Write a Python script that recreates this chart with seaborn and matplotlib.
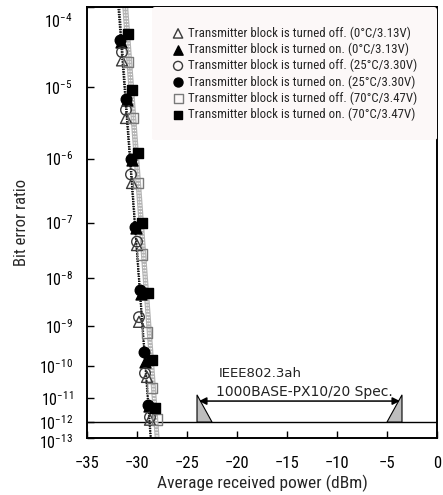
import numpy as np
import pandas as pd
import matplotlib
matplotlib.use("Agg")
import matplotlib.pyplot as plt
import matplotlib.transforms as mtransforms
from matplotlib import font_manager as fm
from matplotlib.ticker import FixedLocator, NullLocator
import seaborn as sns

# Received power (dBm) and measured bit error ratio for each condition
power_0c_off = [-31.5, -31.1, -30.5, -30.0, -29.8, -29.0, -28.7]
ber_0c_off = [2.2e-5, 3.8e-6, 4.3e-7, 4.1e-8, 1.26e-9, 4.9e-11, 1.3e-12]
power_0c_on = [-31.6, -31.0, -30.5, -30.1, -29.6, -29.2, -28.8]
ber_0c_on = [3.8e-5, 6.6e-6, 9.5e-7, 8.0e-8, 5.0e-9, 1.3e-10, 5.0e-12]
power_25c_off = [-31.5, -31.1, -30.6, -30.0, -29.8, -29.2, -28.7]
ber_25c_off = [2.8e-5, 4.9e-6, 5.8e-7, 4.7e-8, 1.6e-9, 6.3e-11, 1.7e-12]
power_25c_on = [-31.7, -31.1, -30.6, -30.2, -29.7, -29.3, -28.9]
ber_25c_on = [4.0e-5, 6.9e-6, 1.0e-6, 8.3e-8, 5.9e-9, 2.4e-10, 5.5e-12]
power_70c_off = [-30.9, -30.4, -29.9, -29.5, -29.0, -28.5, -28.0]
ber_70c_off = [2.1e-5, 3.8e-6, 4.3e-7, 2.8e-8, 7.1e-10, 2.2e-11, 1.3e-12]
power_70c_on = [-30.9, -30.5, -29.9, -29.5, -28.9, -28.5, -28.2]
ber_70c_on = [4.7e-5, 9.1e-6, 1.2e-6, 1.0e-7, 5.1e-9, 1.5e-10, 4.3e-12]

series_labels = [
    "Transmitter block is turned off. (0\u00b0C/3.13V)",
    "Transmitter block is turned on. (0\u00b0C/3.13V)",
    "Transmitter block is turned off. (25\u00b0C/3.30V)",
    "Transmitter block is turned on. (25\u00b0C/3.30V)",
    "Transmitter block is turned off. (70\u00b0C/3.47V)",
    "Transmitter block is turned on. (70\u00b0C/3.47V)",
]
series_power = [power_0c_off, power_0c_on, power_25c_off, power_25c_on,
                power_70c_off, power_70c_on]
series_ber = [ber_0c_off, ber_0c_on, ber_25c_off, ber_25c_on,
              ber_70c_off, ber_70c_on]

# Spec window (dBm) and BER requirement
spec_min_power = -24.0
spec_max_power = -3.5
ber_requirement = 1e-12

x_ticks = [-35, -30, -25, -20, -15, -10, -5, 0]
y_exponents = [-4, -5, -6, -7, -8, -9, -10, -11, -12, -13]

sns.set_theme(style="white")

# Prefer a narrow sans-serif face when one is installed
CONDENSED = ("condensed", "semi-condensed", "extra-condensed", "ultra-condensed")
faces = fm.fontManager.ttflist
family, stretch = "Liberation Sans", "normal"
for pref in ["Liberation Sans Narrow", "Arial Narrow", "Roboto Condensed",
             "Open Sans Condensed", "Noto Sans", "Roboto", "Open Sans", "Liberation Sans",
             "DejaVu Sans"]:
    hits = [f for f in faces if f.name == pref and f.style == "normal"]
    narrow = [f for f in hits if str(f.stretch) in CONDENSED or "Narrow" in f.name
              or "Condensed" in f.name]
    if narrow:
        family = pref
        st = str(narrow[0].stretch)
        stretch = st if st in CONDENSED else "normal"
        break

plt.rcParams["font.family"] = [family, "Liberation Sans", "DejaVu Sans"]
plt.rcParams["font.stretch"] = stretch
plt.rcParams["mathtext.fontset"] = "custom"
plt.rcParams["mathtext.rm"] = family
plt.rcParams["mathtext.default"] = "regular"
narrow_found = stretch != "normal" or family in ("Liberation Sans Narrow", "Arial Narrow",
                                                 "Roboto Condensed", "Open Sans Condensed")

# BER axis: square of (log10(BER) + 14.5)
K0 = 14.5


def ber_fwd(y):
    y = np.asarray(y, dtype=float)
    t = np.log10(np.clip(y, 1e-300, None)) + K0
    return np.clip(t, 0, None) ** 2


def ber_inv(v):
    v = np.asarray(v, dtype=float)
    return 10.0 ** (np.sqrt(np.clip(v, 0, None)) - K0)


fig = plt.figure(figsize=(4.43, 4.95), dpi=100)
ax = fig.add_axes([87 / 443, 1 - 438 / 495, 350 / 443, 431 / 495])
ax.set_yscale("function", functions=(ber_fwd, ber_inv))

styles = [
    dict(marker="^", facecolor="none", edgecolor="#3a3a3a"),
    dict(marker="^", facecolor="black", edgecolor="black"),
    dict(marker="o", facecolor="none", edgecolor="#3a3a3a"),
    dict(marker="o", facecolor="black", edgecolor="black"),
    dict(marker="s", facecolor="none", edgecolor="#7a7a7a"),
    dict(marker="s", facecolor="black", edgecolor="black"),
]

# Fitted straight lines in the BER-axis space
for i, (p, b) in enumerate(zip(series_power, series_ber)):
    v = ber_fwd(b)
    coef = np.polyfit(v, p, 1)
    v_line = np.array([ber_fwd(2e-4), ber_fwd(10 ** -13.6)])
    fit = pd.DataFrame({"power": np.polyval(coef, v_line), "ber": ber_inv(v_line)})
    if i >= 4:
        sns.lineplot(data=fit, x="power", y="ber", ax=ax, color="#b4b4b4", lw=2.6,
                     sort=False, estimator=None, zorder=2)
        sns.lineplot(data=fit, x="power", y="ber", ax=ax, color="white", lw=0.9,
                     ls=(0, (1, 1.5)), sort=False, estimator=None, zorder=2.1)
    else:
        sns.lineplot(data=fit, x="power", y="ber", ax=ax, color="#111111", lw=0.9,
                     ls=(0, (1, 1)), sort=False, estimator=None, zorder=2.2)

# Measured points
for lab, p, b, st in zip(series_labels, series_power, series_ber, styles):
    df = pd.DataFrame({"power": p, "ber": b})
    sns.scatterplot(data=df, x="power", y="ber", ax=ax, marker=st["marker"],
                    s=58 if st["marker"] != "^" else 62,
                    facecolor=st["facecolor"], edgecolor=st["edgecolor"],
                    linewidth=1.0, label=lab, zorder=3)

# BER requirement line
ax.axhline(ber_requirement, color="black", lw=1.0, zorder=1.5)

# Spec window markers
tri_top = 1.3e-11
ax.fill([spec_min_power, spec_min_power, spec_min_power + 1.5],
        [ber_requirement, tri_top, ber_requirement],
        facecolor="#bdbdbd", edgecolor="black", lw=0.8, zorder=2)
ax.fill([spec_max_power, spec_max_power, spec_max_power - 1.5],
        [ber_requirement, tri_top, ber_requirement],
        facecolor="#bdbdbd", edgecolor="black", lw=0.8, zorder=2)
ax.annotate("", xy=(spec_min_power + 0.2, 7.8e-12), xytext=(spec_max_power - 0.2, 7.8e-12),
            arrowprops=dict(arrowstyle="<|-|>", color="black", lw=1.1,
                            mutation_scale=11, shrinkA=0, shrinkB=0), zorder=3)
ax.text(-21.8, 10 ** -10.2, "IEEE802.3ah", fontsize=9.5, family="DejaVu Sans",
        stretch="normal", ha="left", va="center", color="#222222")
ax.text(-22.1, 10 ** -10.8, "1000BASE-PX10/20 Spec.", fontsize=10, family="DejaVu Sans",
        stretch="normal", ha="left", va="center", color="#222222")

tick_size = 12 if narrow_found else 11.5
ax.set_xlim(-35, 0)
ax.set_ylim(1e-13, 1e-4)
ax.xaxis.set_major_locator(FixedLocator(x_ticks))
ax.set_xticklabels([f"\u2212{abs(t)}" if t < 0 else f"{t}" for t in x_ticks])
ax.yaxis.set_major_locator(FixedLocator([10.0 ** e for e in y_exponents]))
ax.yaxis.set_minor_locator(NullLocator())
ax.set_yticklabels([f"$10^{{{e}}}$" for e in y_exponents])
ax.tick_params(axis="both", direction="in", length=5, width=1.0, labelsize=tick_size,
               colors="black", left=True, bottom=True)
ax.tick_params(axis="x", pad=13)
ax.tick_params(axis="y", pad=10, labelsize=tick_size - 0.5)

# Nudge the end labels of the BER axis
ylabs = ax.get_yticklabels()
ylabs[0].set_transform(ylabs[0].get_transform() +
                       mtransforms.ScaledTranslation(0, -13 / 100, fig.dpi_scale_trans))
ylabs[-1].set_transform(ylabs[-1].get_transform() +
                        mtransforms.ScaledTranslation(0, -3 / 100, fig.dpi_scale_trans))

for sp in ax.spines.values():
    sp.set_color("black")
    sp.set_linewidth(1.4)

ax.set_xlabel("Average received power (dBm)", fontsize=12.5, labelpad=3)
ax.set_ylabel("Bit error ratio", fontsize=12, labelpad=7)

leg_size = 9.3 if narrow_found else 8.6
leg = ax.legend(loc="upper right", fontsize=leg_size, frameon=True, facecolor="#fcf8f8",
                edgecolor="none", framealpha=1, borderaxespad=0.0, handletextpad=0.3,
                labelspacing=0.22, handlelength=1.0, borderpad=1.5, markerscale=0.85)
leg.get_frame().set_linewidth(0)

fig.savefig("out.png", dpi=100)
